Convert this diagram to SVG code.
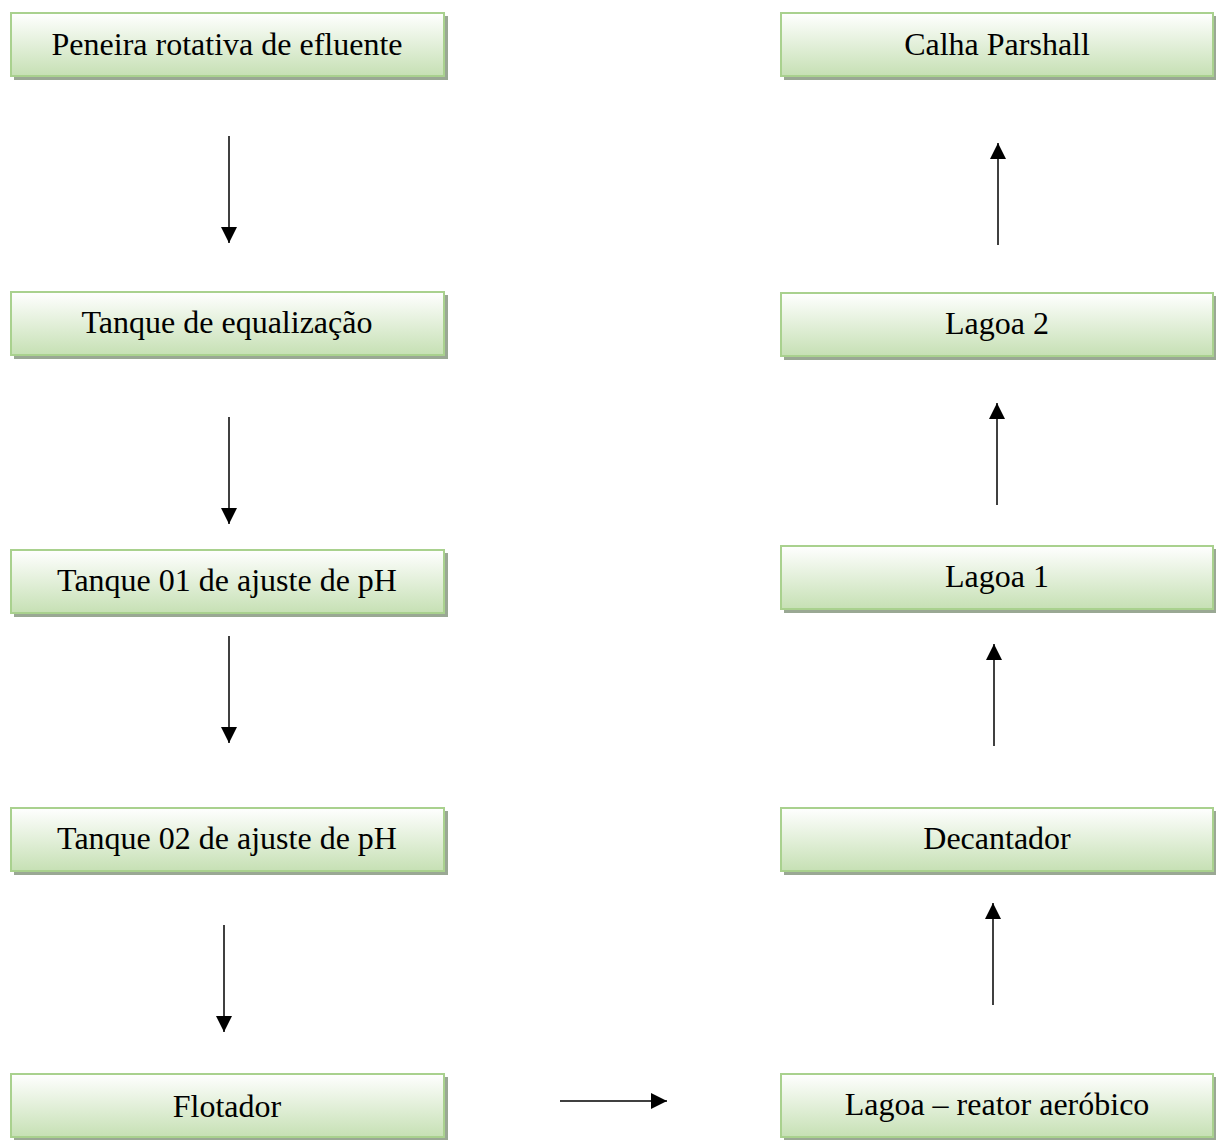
<svg xmlns="http://www.w3.org/2000/svg" width="1216" height="1140" viewBox="0 0 1216 1140">
<defs>
<linearGradient id="g" x1="0" y1="0" x2="0" y2="1">
<stop offset="0" stop-color="#ffffff"/>
<stop offset="1" stop-color="#c6e0b4"/>
</linearGradient>
<marker id="ah" markerWidth="16" markerHeight="16" viewBox="0 0 16 16" refX="16" refY="8" orient="auto" markerUnits="userSpaceOnUse">
<path d="M0,0 L16,8 L0,16 Z" fill="#000"/>
</marker>
</defs>
<style>
.sh{fill:#9aa894}
.bx{fill:url(#g);stroke:#a9d18e;stroke-width:2}
.t{font-family:"Liberation Serif","Times New Roman",serif;font-size:32px;fill:#000;text-anchor:middle}
.c{stroke:#000;stroke-width:1.5;fill:none;marker-end:url(#ah)}
</style>
<rect width="1216" height="1140" fill="#fff"/>
<g id="n1"><rect class="sh" x="14" y="16" width="434" height="64"/><rect class="bx" x="11" y="13" width="433" height="63"/><text class="t" x="227" y="55">Peneira rotativa de efluente</text></g>
<g id="n2"><rect class="sh" x="14" y="295" width="434" height="64"/><rect class="bx" x="11" y="292" width="433" height="63"/><text class="t" x="227" y="333">Tanque de equalização</text></g>
<g id="n3"><rect class="sh" x="14" y="553" width="434" height="64"/><rect class="bx" x="11" y="550" width="433" height="63"/><text class="t" x="227" y="591">Tanque 01 de ajuste de pH</text></g>
<g id="n4"><rect class="sh" x="14" y="811" width="434" height="64"/><rect class="bx" x="11" y="808" width="433" height="63"/><text class="t" x="227" y="849">Tanque 02 de ajuste de pH</text></g>
<g id="n5"><rect class="sh" x="14" y="1077" width="434" height="63"/><rect class="bx" x="11" y="1074" width="433" height="63"/><text class="t" x="227" y="1117">Flotador</text></g>
<g id="n6"><rect class="sh" x="784" y="16" width="432" height="64"/><rect class="bx" x="781" y="13" width="432" height="63"/><text class="t" x="997" y="55">Calha Parshall</text></g>
<g id="n7"><rect class="sh" x="784" y="296" width="432" height="64"/><rect class="bx" x="781" y="293" width="432" height="63"/><text class="t" x="997" y="334">Lagoa 2</text></g>
<g id="n8"><rect class="sh" x="784" y="549" width="432" height="64"/><rect class="bx" x="781" y="546" width="432" height="63"/><text class="t" x="997" y="587">Lagoa 1</text></g>
<g id="n9"><rect class="sh" x="784" y="811" width="432" height="64"/><rect class="bx" x="781" y="808" width="432" height="63"/><text class="t" x="997" y="849">Decantador</text></g>
<g id="n10"><rect class="sh" x="784" y="1077" width="432" height="63"/><rect class="bx" x="781" y="1074" width="432" height="63"/><text class="t" x="997" y="1115">Lagoa – reator aeróbico</text></g>
<g id="connectors">
<line class="c" x1="229" y1="136" x2="229" y2="243"/>
<line class="c" x1="229" y1="417" x2="229" y2="524"/>
<line class="c" x1="229" y1="636" x2="229" y2="743"/>
<line class="c" x1="224" y1="925" x2="224" y2="1032"/>
<line class="c" x1="560" y1="1101" x2="667" y2="1101"/>
<line class="c" x1="998" y1="245" x2="998" y2="143"/>
<line class="c" x1="997" y1="505" x2="997" y2="403"/>
<line class="c" x1="994" y1="746" x2="994" y2="644"/>
<line class="c" x1="993" y1="1005" x2="993" y2="903"/>
</g>
</svg>
